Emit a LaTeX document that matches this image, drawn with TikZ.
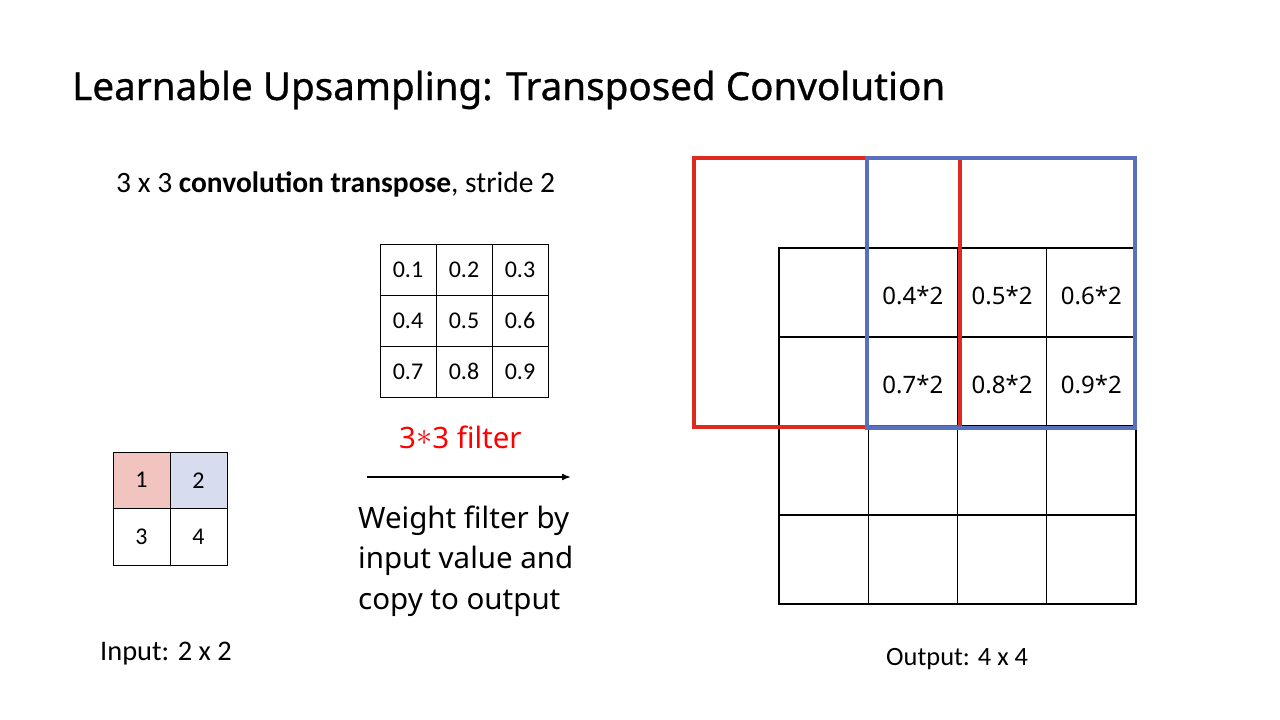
\documentclass[tikz,border=0pt]{standalone}
\usepackage{fontspec}
\setmainfont{Carlito}
\newfontfamily\titlefont{Noto Sans}
\newfontfamily\headfont[FakeBold=0.8]{Noto Sans}
\usetikzlibrary{arrows.meta}
\definecolor{redbox}{RGB}{222,42,30}
\definecolor{bluebox}{RGB}{88,112,192}
\definecolor{pinkcell}{RGB}{241,196,192}
\definecolor{bluecell}{RGB}{215,221,238}
\tikzset{
  ocell/.style={draw=black, line width=1.3pt, minimum width=89.25pt, minimum height=89pt, inner sep=0pt},
  otext/.style={font=\titlefont\fontsize{24}{28}\selectfont, inner sep=0pt, yshift=-3pt},
  fcell/.style={draw=black, line width=1pt, minimum width=56pt, minimum height=51pt, inner sep=0pt, font=\fontsize{24}{28}\selectfont},
  icell/.style={draw=black, line width=1pt, minimum width=57pt, minimum height=56.5pt, inner sep=0pt, font=\fontsize{24}{28}\selectfont},
  winbox/.style={line width=3.6pt, line join=miter},
  lbl/.style={inner sep=0pt, anchor=base west},
  wfont/.style={font=\titlefont\fontsize{29.5}{34}\selectfont},
}
\begin{document}
\begin{tikzpicture}[x=1pt,y=-1pt]
\useasboundingbox (0,0) rectangle (1280,720);
% title
\node[lbl, font=\headfont\fontsize{38.6}{44}\selectfont] (title) at (72,100) {Learnable Upsampling: Transposed Convolution};
\node[lbl, font=\fontsize{29.5}{33}\selectfont] (sub) at (116,192) {3 x 3 \textbf{convolution transpose}, stride 2};
% filter
\foreach \r/\a/\b/\c in {1/0.1/0.2/0.3, 2/0.4/0.5/0.6, 3/0.7/0.8/0.9}{
  \node[fcell] (f\r1) at ({380+28}, {244+51*(\r-0.5)}) {\a};
  \node[fcell] (f\r2) at ({380+56+28}, {244+51*(\r-0.5)}) {\b};
  \node[fcell] (f\r3) at ({380+112+28}, {244+51*(\r-0.5)}) {\c};
}
\node[lbl, wfont, text=red] (ftitle) at (399,448) {3\raisebox{3pt}{\scalebox{1.3}{$\ast$}}3 filter};
% input
\node[icell, fill=pinkcell] (i11) at (141.5,480.25) {1};
\node[icell, fill=bluecell] (i12) at (198.5,480.25) {2};
\node[icell] (i21) at (141.5,536.75) {3};
\node[icell] (i22) at (198.5,536.75) {4};
\node[lbl, font=\fontsize{28.4}{32}\selectfont] (inlbl) at (100,660) {Input: 2 x 2};
% arrow
\coordinate (a1) at (367,477);
\coordinate (a2) at (571,477);
\draw[line width=1.6pt, -{Latex[length=9pt,width=7pt]}] (a1) -- (a2);
\node[lbl, wfont] (w1) at (358,528) {Weight filter by};
\node[lbl, wfont] (w2) at (358,568) {input value and};
\node[lbl, wfont] (w3) at (358,609) {copy to output};
% output grid
\foreach \r in {1,...,4}{
  \foreach \c in {1,...,4}{
    \node[ocell] (o\r\c) at ({779+89.25*(\c-0.5)}, {248+89*(\r-0.5)}) {};
  }
}
\node[otext] (t12) at (o12) {0.4*2};
\node[otext] (t13) at (o13) {0.5*2};
\node[otext] (t14) at (o14) {0.6*2};
\node[otext] (t22) at (o22) {0.7*2};
\node[otext] (t23) at (o23) {0.8*2};
\node[otext] (t24) at (o24) {0.9*2};
\node[lbl, font=\fontsize{26.4}{30}\selectfont] (outlbl) at (886,665) {Output: 4 x 4};
% windows
\coordinate (r1) at (694,158);
\coordinate (r2) at (960,427);
\coordinate (b1) at (867,158);
\coordinate (b2) at (1135,428);
\draw[winbox, draw=redbox] (r1) rectangle (r2);
\draw[winbox, draw=bluebox] (b1) rectangle (b2);
\end{tikzpicture}
\end{document}
